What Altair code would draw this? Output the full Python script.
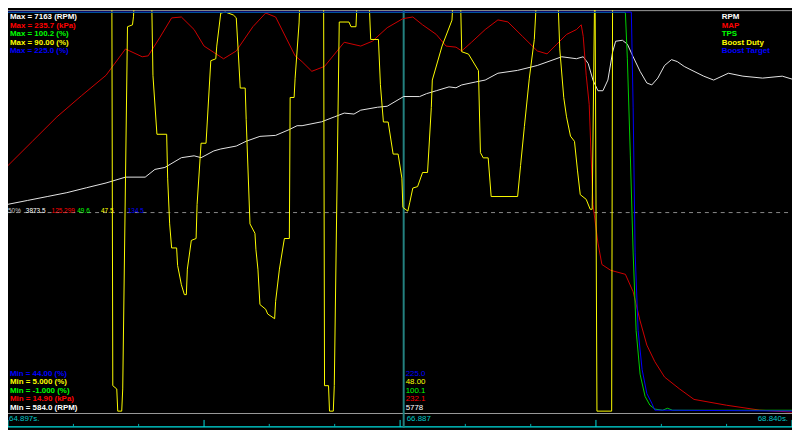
import altair as alt
import pandas as pd

# ---------------- data ----------------
series = ["RPM", "MAP", "TPS", "Boost Duty", "Boost Target"]
units = ["RPM", "kPa", "%", "%", "%"]
max_vals = [7163.0, 235.7, 100.2, 90.0, 225.0]
min_vals = [584.0, 14.9, -1.0, 5.0, 44.0]
max_text = ["7163", "235.7", "100.2", "90.00", "225.0"]
min_text = ["584.0", "14.90", "-1.000", "5.000", "44.00"]
mid_text = ["3873.5", "125.299", "49.6", "47.5", "134.5"]
cursor_text = ["5778", "232.1", "100.1", "48.00", "225.0"]
t_start, t_cursor, t_end = 64.897, 66.887, 68.840
tick_times = [64.897, 65.226, 65.554, 65.883, 66.211, 66.540, 66.869,
              67.197, 67.526, 67.854, 68.183, 68.511, 68.840]
tick_major = [1, 0, 0, 1, 0, 0, 1, 0, 0, 1, 0, 0, 1]

rpm_t = [64.897, 64.996, 65.094, 65.193, 65.291, 65.390, 65.488, 65.587, 65.636, 65.686,
         65.769, 65.833, 65.868, 65.932, 65.967, 66.045, 66.095, 66.164, 66.243, 66.312,
         66.351, 66.376, 66.474, 66.538, 66.588, 66.637, 66.671, 66.755, 66.804, 66.887,
         66.967, 67.002, 67.051, 67.115, 67.150, 67.179, 67.248, 67.297, 67.361, 67.460,
         67.559, 67.682, 67.756, 67.790, 67.815, 67.839, 67.864, 67.889, 67.914, 67.938,
         67.953, 67.987, 68.012, 68.041, 68.076, 68.110, 68.135, 68.165, 68.199, 68.234,
         68.263, 68.298, 68.337, 68.396, 68.446, 68.520, 68.593, 68.692, 68.791, 68.840]
rpm_v = [4009, 4073, 4136, 4200, 4280, 4359, 4455, 4455, 4582, 4614,
         4774, 4805, 4774, 4885, 4917, 4965, 5044, 5124, 5140, 5236,
         5299, 5299, 5363, 5443, 5506, 5490, 5554, 5602, 5618, 5778,
         5777, 5825, 5873, 5936, 5921, 5968, 6016, 6048, 6160, 6207,
         6287, 6430, 6398, 6430, 6319, 6048, 5873, 5873, 6048, 6510,
         6685, 6701, 6637, 6430, 6191, 6000, 5968, 6080, 6287, 6383,
         6351, 6271, 6207, 6112, 6048, 6160, 6112, 6080, 6112, 6064]

map_t = [64.897, 65.020, 65.143, 65.267, 65.390, 65.488, 65.572, 65.602, 65.661, 65.720,
         65.769, 65.833, 65.883, 65.981, 66.045, 66.129, 66.193, 66.243, 66.341, 66.376,
         66.425, 66.489, 66.588, 66.671, 66.730, 66.804, 66.883, 66.933, 66.982, 67.051,
         67.100, 67.150, 67.179, 67.228, 67.297, 67.361, 67.411, 67.485, 67.559, 67.608,
         67.657, 67.706, 67.756, 67.780, 67.790, 67.805, 67.820, 67.839, 67.864, 67.884,
         67.928, 68.002, 68.041, 68.076, 68.110, 68.150, 68.199, 68.273, 68.347, 68.510,
         68.677, 68.840]
map_v = [151.2, 164.6, 178.0, 189.7, 200.9, 215.4, 211.1, 211.6, 221.8, 232.5,
         233.0, 226.1, 217.0, 210.0, 214.3, 227.7, 235.2, 233.0, 211.6, 208.4,
         203.1, 205.8, 219.1, 217.0, 219.7, 227.1, 232.1, 233.0, 228.7, 223.4,
         217.0, 216.4, 214.3, 219.1, 226.1, 231.4, 230.3, 222.3, 214.3, 212.7,
         218.0, 223.4, 226.1, 228.7, 222.3, 200.9, 184.9, 129.8, 108.5, 96.7,
         93.5, 91.3, 81.7, 65.7, 52.3, 43.2, 34.7, 28.3, 22.4, 19.2,
         16.5, 15.4]

duty_t = [64.897, 65.419, 65.424, 65.444, 65.449, 65.469, 65.474, 65.498, 65.523, 65.528,
          65.543, 65.617, 65.626, 65.646, 65.695, 65.700, 65.710, 65.720, 65.745, 65.750,
          65.769, 65.784, 65.794, 65.799, 65.819, 65.843, 65.848, 65.868, 65.893, 65.917,
          65.942, 65.947, 65.967, 65.991, 66.030, 66.045, 66.055, 66.065, 66.090, 66.095,
          66.114, 66.139, 66.144, 66.154, 66.164, 66.193, 66.203, 66.238, 66.243, 66.262,
          66.287, 66.312, 66.316, 66.336, 66.341, 66.361, 66.371, 66.484, 66.489, 66.509,
          66.514, 66.533, 66.538, 66.563, 66.612, 66.622, 66.647, 66.661, 66.706, 66.721,
          66.760, 66.770, 66.785, 66.809, 66.834, 66.859, 66.878, 66.883, 66.908, 66.918,
          66.933, 66.957, 66.982, 67.007, 67.026, 67.031, 67.080, 67.130, 67.144, 67.169,
          67.179, 67.213, 67.263, 67.273, 67.287, 67.312, 67.327, 67.460, 67.475, 67.494,
          67.519, 67.544, 67.564, 67.657, 67.672, 67.692, 67.706, 67.726, 67.746, 67.761,
          67.775, 67.805, 67.825, 67.835, 67.849, 67.859, 67.933, 67.938, 68.840]
duty_v = [100, 100, 10.8, 10.1, 5.4, 5.4, 10.1, 86.9, 87.3, 89.0,
          100, 100, 76.6, 64.1, 64.1, 54.8, 45.1, 40.0, 40.0, 36.3,
          32.2, 30.1, 30.1, 35.5, 41.6, 42.0, 49.2, 62.2, 62.2, 79.7,
          80.1, 82.8, 89.8, 90.0, 89.4, 88.8, 81.6, 73.9, 73.9, 67.2,
          45.1, 43.1, 39.6, 35.5, 28.0, 27.0, 26.0, 25.0, 28.7, 35.5,
          42.0, 42.0, 71.9, 71.9, 76.0, 87.7, 100, 100, 10.8, 10.8,
          5.4, 5.4, 10.8, 87.9, 87.9, 86.9, 86.9, 100, 100, 84.2,
          84.2, 74.6, 66.7, 66.7, 59.9, 59.9, 54.8, 48.6, 47.8, 49.7,
          52.7, 53.0, 56.0, 56.0, 69.8, 75.6, 82.8, 88.3, 100, 100,
          81.6, 81.1, 77.6, 60.2, 59.1, 59.1, 50.9, 50.9, 57.5, 65.7,
          76.0, 84.2, 100, 100, 82.2, 71.9, 67.8, 63.7, 62.6, 56.5,
          51.3, 50.3, 48.2, 48.2, 100, 5.4, 5.4, 100, 100]

tps_t = [64.897, 68.002, 68.012, 68.027, 68.041, 68.056, 68.076, 68.101, 68.125, 68.150,
         68.189, 68.214, 68.239, 68.840]
tps_v = [100.1, 100.1, 88.4, 63.9, 39.4, 19.8, 8.8, 3.2, 1.0, 0.0,
         -0.3, 0.2, -0.3, -0.3]

tgt_t = [64.897, 68.032, 68.041, 68.051, 68.066, 68.086, 68.110, 68.135, 68.150, 68.840]
tgt_v = [225.0, 225.0, 182.1, 116.3, 81.3, 63.7, 52.8, 48.4, 45.3, 44.9]

line_colors = ["#e6e6e6", "#d00000", "#00d000", "#ffff00", "#0000ff"]
text_colors = ["#ffffff", "#ff0000", "#00ff00", "#ffff00", "#0000ff"]
draw_order = ["RPM", "MAP", "Boost Duty", "TPS", "Boost Target"]

# ---------------- layout ----------------
W, H = 792, 422
PLOT_TOP, PLOT_BOT = 2, 407
FONT = "Liberation Sans"

raw = {"RPM": (rpm_t, rpm_v), "MAP": (map_t, map_v), "TPS": (tps_t, tps_v),
       "Boost Duty": (duty_t, duty_v), "Boost Target": (tgt_t, tgt_v)}

xs = alt.Scale(domain=[t_start, t_end], range=[0, W], nice=False, zero=False)
ys = alt.Scale(domain=[0, 1], range=[PLOT_BOT, PLOT_TOP], nice=False, zero=False)

one = pd.DataFrame({"a": [0]})
layers = []

# frame lines
layers.append(alt.Chart(one).mark_rule(color="#9a9a9a", strokeWidth=1).encode(
    x=alt.value(0), x2=alt.value(W), y=alt.value(0.5)))
layers.append(alt.Chart(one).mark_rule(color="#9a9a9a", strokeWidth=1).encode(
    x=alt.value(0), x2=alt.value(W), y=alt.value(PLOT_BOT + 0.5)))
layers.append(alt.Chart(one).mark_rule(color="#00e0e0", strokeWidth=1.5).encode(
    x=alt.value(0), x2=alt.value(W), y=alt.value(H - 1)))

# timeline ticks
tick_df = pd.DataFrame({"t": tick_times, "major": tick_major})
layers.append(alt.Chart(tick_df[tick_df.major == 1]).mark_rule(color="#00e0e0", strokeWidth=1).encode(
    x=alt.X("t:Q", scale=xs, axis=None), y=alt.value(H - 8), y2=alt.value(H - 1)))
layers.append(alt.Chart(tick_df[tick_df.major == 0]).mark_rule(color="#00b0b0", strokeWidth=1).encode(
    x=alt.X("t:Q", scale=xs, axis=None), y=alt.value(H - 4), y2=alt.value(H - 1)))

# dashed 50% line
layers.append(alt.Chart(one).mark_rule(color="#8a8a8a", strokeWidth=1, strokeDash=[4, 4]).encode(
    x=alt.value(0), x2=alt.value(W), y=alt.Y(datum=0.5, type="quantitative", scale=ys, axis=None)))

# cursor
layers.append(alt.Chart(one).mark_rule(color="#23807f", strokeWidth=2).encode(
    x=alt.X(datum=t_cursor, type="quantitative", scale=xs, axis=None),
    y=alt.value(0), y2=alt.value(H)))

# traces
for name in draw_order:
    k = series.index(name)
    t, v = raw[name]
    df = pd.DataFrame({"t": t, "v": v})
    df["i"] = range(len(df))
    df["n"] = (df["v"] - min_vals[k]) / (max_vals[k] - min_vals[k])
    layers.append(alt.Chart(df).mark_line(color=line_colors[k], strokeWidth=1, clip=True,
                                          interpolate="linear").encode(
        x=alt.X("t:Q", scale=xs, axis=None),
        y=alt.Y("n:Q", scale=ys, axis=None),
        order="i:Q"))

LH = 8.7
FS = 8
# Max labels (top-left) and legend (top-right)
for k in range(5):
    layers.append(alt.Chart(one).mark_text(
        text=f"Max = {max_text[k]} ({units[k]})", color=text_colors[k], font=FONT,
        fontSize=FS, fontWeight="bold", align="left", baseline="middle").encode(
        x=alt.value(2), y=alt.value(7 + LH * k)))
    layers.append(alt.Chart(one).mark_text(
        text=series[k], color=text_colors[k], font=FONT,
        fontSize=FS, fontWeight="bold", align="left", baseline="middle").encode(
        x=alt.value(721), y=alt.value(7 + LH * k)))
    # Min labels (bottom-left), RPM at the bottom
    layers.append(alt.Chart(one).mark_text(
        text=f"Min = {min_text[k]} ({units[k]})", color=text_colors[k], font=FONT,
        fontSize=FS, fontWeight="bold", align="left", baseline="middle").encode(
        x=alt.value(2), y=alt.value(PLOT_BOT - 5 - LH * k)))
    # cursor values
    layers.append(alt.Chart(one).mark_text(
        text=cursor_text[k], color=text_colors[k], font=FONT,
        fontSize=FS, align="left", baseline="middle", dx=2).encode(
        x=alt.X(datum=t_cursor, type="quantitative", scale=xs, axis=None),
        y=alt.value(PLOT_BOT - 5 - LH * k)))

# 50% labels
mid_x = [18, 44, 70, 94, 121]
layers.append(alt.Chart(one).mark_text(
    text="50%", color="#c8c8c8", font=FONT, fontSize=6.5, align="left", baseline="middle", dy=-2).encode(
    x=alt.value(0), y=alt.Y(datum=0.5, type="quantitative", scale=ys, axis=None)))
for k in range(5):
    layers.append(alt.Chart(one).mark_text(
        text=mid_text[k], color=text_colors[k], font=FONT, fontSize=6.5,
        align="left", baseline="middle", dy=-2).encode(
        x=alt.value(mid_x[k]), y=alt.Y(datum=0.5, type="quantitative", scale=ys, axis=None)))

# timeline labels
layers.append(alt.Chart(one).mark_text(
    text=f"{t_start:.3f}s.", color="#00c8c8", font=FONT, fontSize=FS,
    align="left", baseline="middle", dx=1).encode(
    x=alt.X(datum=t_start, type="quantitative", scale=xs, axis=None), y=alt.value(PLOT_BOT + 6)))
layers.append(alt.Chart(one).mark_text(
    text=f"{t_cursor:.3f}", color="#00c8c8", font=FONT, fontSize=FS,
    align="left", baseline="middle", dx=3).encode(
    x=alt.X(datum=t_cursor, type="quantitative", scale=xs, axis=None), y=alt.value(PLOT_BOT + 6)))
layers.append(alt.Chart(one).mark_text(
    text=f"{t_end:.3f}s.", color="#00c8c8", font=FONT, fontSize=FS,
    align="right", baseline="middle", dx=-4).encode(
    x=alt.X(datum=t_end, type="quantitative", scale=xs, axis=None), y=alt.value(PLOT_BOT + 6)))

chart = alt.layer(*layers).properties(
    width=W, height=H, background="black", padding=0,
    autosize=alt.AutoSizeParams(type="none")
).configure_view(stroke=None, fill="black")

chart.save("out.html", embed_options={"renderer": "svg", "actions": False})
